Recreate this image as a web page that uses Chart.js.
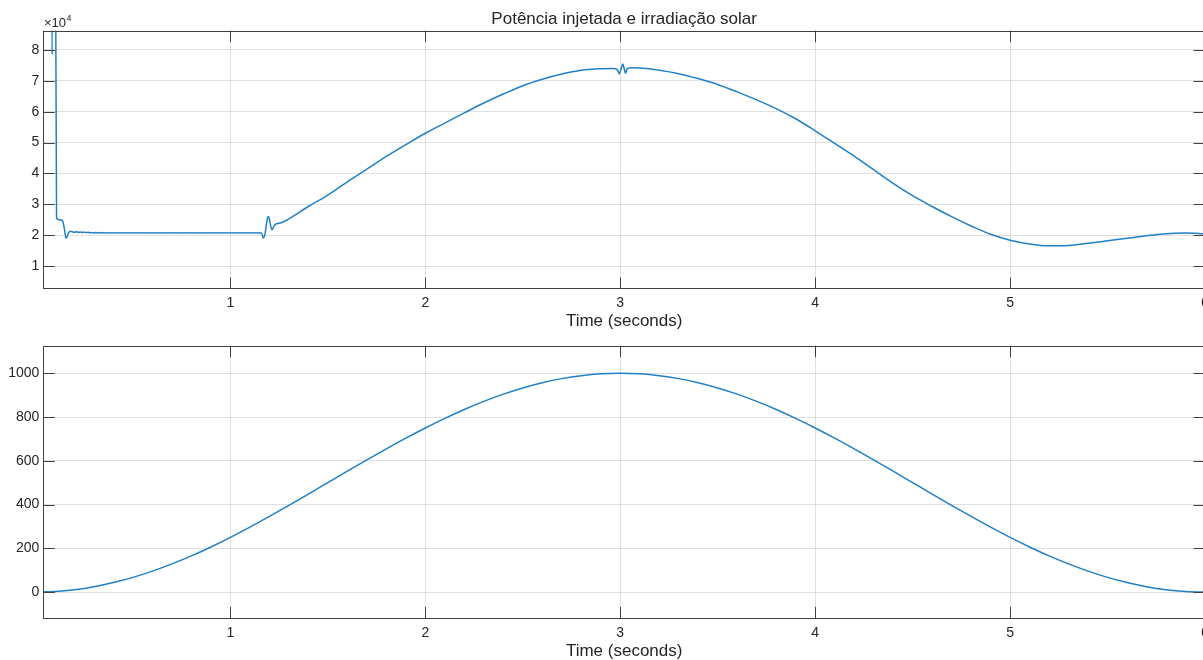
<!DOCTYPE html>
<html><head><meta charset="utf-8">
<script src="https://cdn.jsdelivr.net/npm/chart.js@4/dist/chart.umd.min.js"></script>
<style>
html,body{margin:0;padding:0;background:#fff;overflow:hidden;width:1203px;height:660px;}
canvas{position:absolute;left:0;}
#c1{top:0;}
#c2{top:335px;}
</style></head><body>
<canvas id="c1" width="1206" height="335"></canvas>
<canvas id="c2" width="1206" height="325"></canvas>
<script>
// ---------- data ----------
const titleText = 'Potência injetada e irradiação solar';
const xTitle = 'Time (seconds)';
const xTicks = [1, 2, 3, 4, 5, 6];
const powerTicks = [10000, 20000, 30000, 40000, 50000, 60000, 70000, 80000];
const irrTicks = [0, 200, 400, 600, 800, 1000];

const timePower = [
  0.04, 0.06, 0.080, 0.085, 0.090, 0.100, 0.108, 0.125, 0.138, 0.147, 0.157, 0.168, 0.178,
  0.19, 0.20, 0.21, 0.22, 0.23, 0.24, 0.25, 0.26, 0.27, 0.28, 0.29, 0.30,
  0.31, 0.32, 0.33, 0.34, 0.35, 0.36, 0.37, 0.38, 0.39, 0.40,
  0.41, 0.42, 0.43, 0.44, 0.45, 0.46, 0.47, 0.48, 0.49, 0.50,
  0.51, 0.52, 0.53, 0.54, 0.55, 0.56, 0.57, 0.58, 0.59, 0.60,
  0.61, 0.62, 0.63, 0.64, 0.65, 0.66, 0.67, 0.68, 0.69, 0.70,
  0.71, 0.72, 0.73, 0.74, 0.75, 0.76, 0.77, 0.78, 0.79, 0.80,
  0.81, 0.82, 0.83, 0.84, 0.85, 0.86, 0.87, 0.88, 0.89, 0.90,
  0.91, 0.92, 0.93, 0.94, 0.95, 0.96, 0.97, 0.98, 0.99, 1.00,
  1.01, 1.02, 1.03, 1.04, 1.05, 1.06, 1.07, 1.08, 1.09, 1.10,
  1.11, 1.12, 1.13, 1.14, 1.15, 1.16,
  1.168, 1.178, 1.187, 1.194, 1.200, 1.207, 1.214, 1.222, 1.232, 1.250, 1.271, 1.3,
  1.4, 1.5, 1.6, 1.7, 1.8, 1.9, 2.0, 2.1, 2.2, 2.3, 2.4, 2.5, 2.6, 2.7, 2.8, 2.9,
  2.96, 2.985, 2.995, 3.005, 3.013, 3.02, 3.027, 3.035, 3.05, 3.1,
  3.2, 3.3, 3.4, 3.5, 3.6, 3.7, 3.8, 3.9, 4.0, 4.1, 4.2, 4.3, 4.4, 4.5, 4.6, 4.7, 4.8, 4.9,
  5.0, 5.1, 5.2, 5.3, 5.4, 5.5, 5.6, 5.7, 5.8, 5.9, 6.0
];
const power = [
  150000, 150000, 150000, 78500, 150000, 150000, 25500, 25000, 24800, 22500, 19000, 20600, 21300,
  21100, 21000, 21100, 20950, 21050, 20900, 21000, 20850, 20950, 20800, 20900, 20750,
  20850, 20750, 20850, 20750, 20820, 20720, 20820, 20720, 20820, 20720,
  20820, 20720, 20820, 20720, 20820, 20720, 20820, 20720, 20820, 20720,
  20820, 20720, 20820, 20720, 20820, 20720, 20820, 20720, 20820, 20720,
  20820, 20720, 20820, 20720, 20820, 20720, 20820, 20720, 20820, 20720,
  20820, 20720, 20820, 20720, 20820, 20720, 20820, 20720, 20820, 20720,
  20820, 20720, 20820, 20720, 20820, 20720, 20820, 20720, 20820, 20720,
  20820, 20720, 20820, 20720, 20820, 20720, 20820, 20720, 20820, 20720,
  20820, 20720, 20820, 20720, 20820, 20720, 20820, 20720, 20820, 20720,
  20820, 20720, 20820, 20720, 20800, 20700,
  19100, 20600, 24500, 26100, 25300, 22800, 21800, 22800, 23600, 23900, 24300, 25300,
  29300, 33000, 37300, 41400, 45500, 49300, 53000, 56300, 59600, 62800, 65700, 68400, 70500, 72200, 73400, 73900,
  74000, 73600, 72200, 74000, 75400, 74000, 72400, 73800, 74200, 74100,
  73400, 72300, 70700, 68800, 66400, 63800, 61000, 57700, 53800, 49700, 45600, 41200, 36800, 32800, 29300, 26000, 23000, 20300,
  18400, 17200, 16600, 16700, 17400, 18200, 19000, 19800, 20500, 20700, 20500
];

const timeIrr = [
  0.0, 0.1, 0.2, 0.3, 0.4, 0.5, 0.6, 0.7, 0.8, 0.9,
  1.0, 1.1, 1.2, 1.3, 1.4, 1.5, 1.6, 1.7, 1.8, 1.9,
  2.0, 2.1, 2.2, 2.3, 2.4, 2.5, 2.6, 2.7, 2.8, 2.9,
  3.0, 3.1, 3.2, 3.3, 3.4, 3.5, 3.6, 3.7, 3.8, 3.9,
  4.0, 4.1, 4.2, 4.3, 4.4, 4.5, 4.6, 4.7, 4.8, 4.9,
  5.0, 5.1, 5.2, 5.3, 5.4, 5.5, 5.6, 5.7, 5.8, 5.9, 6.0
];
const irradiance = [
  0, 2.7, 10.9, 24.5, 43.4, 67.0, 95.5, 128.6, 165.4, 206.1,
  250.0, 296.6, 345.5, 396.0, 447.7, 500.0, 552.3, 604.0, 654.5, 703.4,
  750.0, 793.9, 834.6, 871.4, 904.5, 933.0, 956.6, 975.5, 989.1, 997.3,
  1000.0, 997.3, 989.1, 975.5, 956.6, 933.0, 904.5, 871.4, 834.6, 793.9,
  750.0, 703.4, 654.5, 604.0, 552.3, 500.0, 447.7, 396.0, 345.5, 296.6,
  250.0, 206.1, 165.4, 128.6, 95.5, 67.0, 43.4, 24.5, 10.9, 2.7, 0
];

// ---------- styling ----------
const FONT = 'Arial, "Liberation Sans", Helvetica, sans-serif';
const TXT = '#262626';
const LINE = '#1f80c6';
const GRID = 'rgba(38,38,38,0.14)';
const AXIS = '#404040';

const framePlugin = {
  id: 'frame',
  afterDatasetsDraw(chart, args, opts) {
    const {ctx, chartArea: {left, right, top, bottom}, scales: {x, y}} = chart;
    ctx.save();
    ctx.strokeStyle = AXIS;
    ctx.lineWidth = 1;
    ctx.strokeRect(Math.round(left) + 0.5, Math.round(top) + 0.5, Math.round(right - left) - 1, Math.round(bottom - top) - 1);
    const tl = 11.5;
    ctx.beginPath();
    x.ticks.forEach(t => {
      const px = Math.round(x.getPixelForValue(t.value)) + 0.5;
      ctx.moveTo(px, bottom); ctx.lineTo(px, bottom - tl);
      ctx.moveTo(px, top); ctx.lineTo(px, top + tl);
    });
    y.ticks.forEach(t => {
      const py = Math.round(y.getPixelForValue(t.value)) + 0.5;
      ctx.moveTo(left, py); ctx.lineTo(left + tl, py);
      ctx.moveTo(right, py); ctx.lineTo(right - tl, py);
    });
    ctx.stroke();
    if (opts && opts.exponent) {
      ctx.fillStyle = TXT;
      ctx.textBaseline = 'alphabetic';
      ctx.textAlign = 'left';
      ctx.font = '13px ' + FONT;
      ctx.fillText('\u00d710', 44, 27);
      const w = ctx.measureText('\u00d710').width;
      ctx.font = '9px ' + FONT;
      ctx.fillText(opts.exponent, 44 + w + 0.5, 21);
    }
    ctx.restore();
  }
};

function makeOptions(cfg) {
  return {
    responsive: false,
    animation: false,
    events: [],
    layout: {autoPadding: false, padding: {left: 0, right: 1, top: cfg.padTop, bottom: 0}},
    plugins: {
      legend: {display: false},
      tooltip: {enabled: false},
      title: cfg.title ? {
        display: true, text: cfg.title, color: TXT, fullSize: false,
        font: {family: FONT, size: 17, weight: 'normal', lineHeight: 1.2},
        padding: {top: 9, bottom: 1.3}
      } : {display: false},
      frame: {exponent: cfg.exponent}
    },
    scales: {
      x: {
        type: 'linear', min: 0.04, max: 6,
        afterBuildTicks: s => { s.ticks = xTicks.map(v => ({value: v})); },
        afterFit: s => { s.height = cfg.xHeight; s.paddingLeft = 0; s.paddingRight = 0; },
        grid: {color: GRID, drawTicks: false, lineWidth: 1},
        border: {display: false},
        ticks: {color: TXT, font: {family: FONT, size: 14}, padding: 6, maxRotation: 0,
                callback: v => String(v)},
        title: {display: true, text: xTitle, color: TXT,
                font: {family: FONT, size: 17, lineHeight: 1}, padding: {top: 0, bottom: cfg.xTitlePad}}
      },
      y: {
        type: 'linear', min: cfg.ymin, max: cfg.ymax,
        afterBuildTicks: s => { s.ticks = cfg.yTicks.map(v => ({value: v})); },
        afterFit: s => { s.width = 43.3; s.paddingTop = 0; s.paddingBottom = 0; },
        grid: {color: GRID, drawTicks: false, lineWidth: 1},
        border: {display: false},
        ticks: {color: TXT, font: {family: FONT, size: 14}, padding: 4,
                callback: cfg.yFmt}
      }
    }
  };
}

new Chart(document.getElementById('c1'), {
  type: 'line',
  data: {datasets: [{
    data: timePower.map((t, i) => ({x: t, y: power[i]})),
    borderColor: LINE, borderWidth: 1.5, pointRadius: 0, cubicInterpolationMode: 'monotone', fill: false
  }]},
  options: makeOptions({
    title: titleText, padTop: 0, xHeight: 46, xTitlePad: 5,
    ymin: 2600, ymax: 86200, yTicks: powerTicks, yFmt: v => String(v / 10000), exponent: '4'
  }),
  plugins: [framePlugin]
});

new Chart(document.getElementById('c2'), {
  type: 'line',
  data: {datasets: [{
    data: timeIrr.map((t, i) => ({x: t, y: irradiance[i]})),
    borderColor: LINE, borderWidth: 1.5, pointRadius: 0, cubicInterpolationMode: 'monotone', fill: false
  }]},
  options: makeOptions({
    title: null, padTop: 10.7, xHeight: 41.7, xTitlePad: 0,
    ymin: -120, ymax: 1126, yTicks: irrTicks, yFmt: v => String(v), exponent: null
  }),
  plugins: [framePlugin]
});
</script>
</body></html>
